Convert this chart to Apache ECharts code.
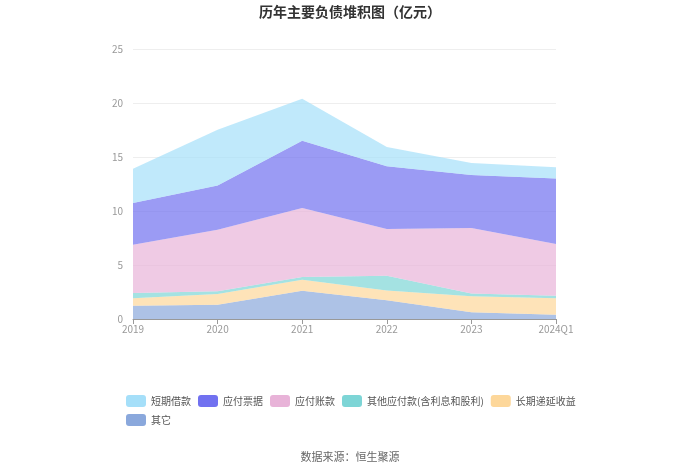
<!DOCTYPE html>
<html><head><meta charset="utf-8">
<script src="https://cdn.jsdelivr.net/npm/echarts@6/dist/echarts.min.js"></script>
<style>html,body{margin:0;padding:0;background:#fff}#c{width:700px;height:474px}</style>
</head><body><div id="c"></div>
<script>
var categories = ['2019','2020','2021','2022','2023','2024Q1'];
var legendOrder = ['短期借款','应付票据','应付账款','其他应付款(含利息和股利)','长期递延收益','其它'];
var other      = [1.23, 1.33, 2.62, 1.73, 0.62, 0.40];
var deferred   = [0.68, 0.98, 1.02, 0.92, 1.48, 1.51];
var otherPay   = [0.50, 0.25, 0.25, 1.36, 0.25, 0.25];
var accountsPay= [4.47, 5.71, 6.39, 4.32, 6.08, 4.78];
var notesPay   = [3.86, 4.08, 6.23, 5.81, 4.90, 6.08];
var shortLoan  = [3.18, 5.18, 3.89, 1.79, 1.11, 1.02];
var yTicks = [0,5,10,15,20,25];

function s(name, data, color){
  return {name:name, type:'line', stack:'total', data:data, symbol:'none', smooth:false,
    lineStyle:{width:0}, itemStyle:{color:color}, areaStyle:{color:color, opacity:0.7}};
}
var chart = echarts.init(document.getElementById('c'));
chart.setOption({
  animation:false,
  title:{text:'历年主要负债堆积图（亿元）', left:'center', top:0,
    textStyle:{fontSize:14, fontWeight:'bold', color:'#333', fontFamily:'Noto Sans CJK SC'}},
  grid:{left:133, right:144, top:49, bottom:155},
  legend:{data:legendOrder, icon:'roundRect', left:121, top:390, width:470, itemWidth:20, itemHeight:12, itemGap:7,
    textStyle:{fontSize:10, lineHeight:12, color:'#555', fontFamily:'Noto Sans CJK SC'}},
  xAxis:{type:'category', data:categories, boundaryGap:false,
    axisLine:{lineStyle:{color:'#999'}}, axisTick:{show:true, lineStyle:{color:'#999'}},
    axisLabel:{color:'#999', fontSize:10, margin:5, fontFamily:'Noto Sans CJK SC'}},
  yAxis:{type:'value', min:yTicks[0], max:yTicks[yTicks.length-1], interval:5,
    axisLine:{show:false}, axisTick:{show:false},
    splitLine:{lineStyle:{color:'#eee'}},
    axisLabel:{color:'#999', fontSize:10, margin:10, fontFamily:'Noto Sans CJK SC'}},
  series:[
    s('其它', other, '#8aa8dc'),
    s('长期递延收益', deferred, '#fdd79a'),
    s('其他应付款(含利息和股利)', otherPay, '#7dd5d6'),
    s('应付账款', accountsPay, '#e8b3d8'),
    s('应付票据', notesPay, '#7171f0'),
    s('短期借款', shortLoan, '#a5dff9')
  ]
});
chart.setOption({graphic:[{type:'text', left:'center', top:451,
  style:{text:'数据来源：恒生聚源', fill:'#666', fontSize:11, fontFamily:'Noto Sans CJK SC'}}]});
</script></body></html>
